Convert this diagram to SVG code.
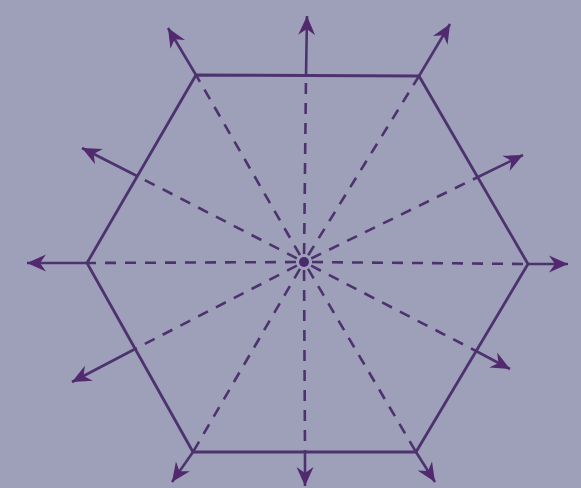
<svg xmlns="http://www.w3.org/2000/svg" width="581" height="488" viewBox="0 0 581 488">
<defs>
<marker id="ah" markerUnits="userSpaceOnUse" markerWidth="24" markerHeight="20" viewBox="-20 -10 24 20" refX="0" refY="0" orient="auto">
<path d="M0,0 L-19,-8.5 L-13,0 L-19,8.5 Z" fill="#52286f"/>
</marker>
</defs>
<style>
.hex{fill:none;stroke:#4d336e;stroke-width:2.8;stroke-linejoin:miter}
.dash{fill:none;stroke:#4d336e;stroke-width:2.6;stroke-dasharray:11 9;stroke-dashoffset:12}
.out{fill:none;stroke:#4d336e;stroke-width:2.6;marker-end:url(#ah)}
</style>
<rect width="581" height="488" fill="#9ea0b9"/>
<g id="hexagon">
<polygon class="hex" points="196,75 419,76 528,264 416,452 193,452 87,263"/>
<circle cx="304" cy="262" r="5" fill="#4a2a6e"/>
</g>
<g id="connectors">
<g id="dashed">
<line class="dash" x1="304" y1="262" x2="196" y2="75"/>
<line class="dash" x1="304" y1="262" x2="419" y2="76"/>
<line class="dash" x1="304" y1="262" x2="528" y2="264"/>
<line class="dash" x1="304" y1="262" x2="416" y2="452"/>
<line class="dash" x1="304" y1="262" x2="193" y2="452"/>
<line class="dash" x1="304" y1="262" x2="87" y2="263"/>
<line class="dash" x1="304" y1="262" x2="306" y2="76"/>
<line class="dash" x1="304" y1="262" x2="478" y2="177"/>
<line class="dash" x1="304" y1="262" x2="476" y2="351"/>
<line class="dash" x1="304" y1="262" x2="305" y2="452"/>
<line class="dash" x1="304" y1="262" x2="135" y2="349"/>
<line class="dash" x1="304" y1="262" x2="137" y2="176"/>
</g>
<g id="arrows">
<line class="out" x1="196" y1="75" x2="168" y2="28"/>
<line class="out" x1="419" y1="76" x2="450" y2="24"/>
<line class="out" x1="528" y1="264" x2="568" y2="264"/>
<line class="out" x1="416" y1="452" x2="435" y2="482"/>
<line class="out" x1="193" y1="452" x2="172" y2="482"/>
<line class="out" x1="87" y1="263" x2="27" y2="263"/>
<line class="out" x1="306" y1="76" x2="307" y2="16"/>
<line class="out" x1="478" y1="177" x2="523" y2="155"/>
<line class="out" x1="476" y1="351" x2="510" y2="369"/>
<line class="out" x1="305" y1="452" x2="305" y2="486"/>
<line class="out" x1="135" y1="349" x2="72" y2="382"/>
<line class="out" x1="137" y1="176" x2="82" y2="148"/>
</g>
</g>
</svg>
